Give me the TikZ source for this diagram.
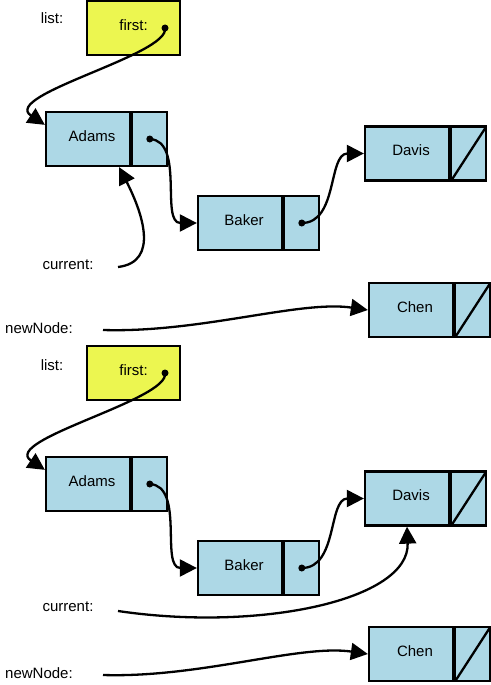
\documentclass[tikz,border=0pt]{standalone}
\usepackage{fontspec}
\setmainfont{Liberation Sans}
\usetikzlibrary{arrows.meta,calc}
\definecolor{cellblue}{RGB}{173,216,230}
\definecolor{headyellow}{RGB}{236,246,80}
\begin{document}
\begin{tikzpicture}[x=1pt,y=-1pt,
  every node/.style={font=\fontsize{15}{18}\selectfont},
  cell/.style={draw,line width=2.3pt,fill=cellblue,inner sep=0pt,minimum height=54pt},
  namecell/.style={cell,minimum width=84pt,text depth=6pt,execute at begin node={\hspace*{8pt}}},
  ptrcell/.style={cell,minimum width=35pt,anchor=west},
  nullcell/.style={ptrcell,path picture={\draw[line width=2.3pt]
      (path picture bounding box.south west) -- (path picture bounding box.north east);}},
  headbox/.style={draw,line width=2.3pt,fill=headyellow,minimum width=93pt,
      minimum height=54pt,inner sep=0pt,text depth=6pt},
  link/.style={line width=2.3pt,-{Triangle[length=17pt,width=17pt]}},
  dot/.style={circle,fill=black,inner sep=0pt,minimum size=7pt},
  lbl/.style={inner sep=0pt}]
\useasboundingbox (0,0) rectangle (490,685);

% ---------- first state ----------
\node[lbl] (list1) at (52,18) {list:};
\node[headbox] (h1) at (133.5,28) {first:};
\node[dot] (hd1) at (165,28) {};

\node[namecell] (a1) at (88,139) {Adams};
\node[ptrcell] (ap1) at (a1.east) {};
\node[dot] (ad1) at (ap1.center) {};

\node[namecell] (b1) at (240,223) {Baker};
\node[ptrcell] (bp1) at (b1.east) {};
\node[dot] (bd1) at (bp1.center) {};

\node[namecell] (d1) at (407,153.5) {Davis};
\node[nullcell] (dp1) at (d1.east) {};

\node[namecell] (c1) at (411,310) {Chen};
\node[nullcell] (cp1) at (c1.east) {};

\node[lbl] (curl1) at (68,265) {current:};
\node[lbl] (nnl1) at (39,328) {newNode:};
\coordinate (cur1) at (118,267);
\coordinate (nn1) at (103,330);

\draw[link] (hd1.center) .. controls (170,55) and (0,95) .. ($(a1.north west)+(0,14)$);
\draw[link] (ad1.center) .. controls (185,141) and (160,223) .. (b1.west);
\draw[link] (bd1.center) .. controls (338,223) and (328,153.5) .. (d1.west);
\draw[link] (cur1) .. controls (160,262) and (142,212) .. ($(a1.south east)+(-12,0)$);
\draw[link] (nn1) .. controls (200,333) and (300,300) .. (c1.west);

% ---------- second state ----------
\node[lbl] (list2) at (52,365) {list:};
\node[headbox] (h2) at (133.5,373) {first:};
\node[dot] (hd2) at (165,373) {};

\node[namecell] (a2) at (88,484) {Adams};
\node[ptrcell] (ap2) at (a2.east) {};
\node[dot] (ad2) at (ap2.center) {};

\node[namecell] (b2) at (240,568) {Baker};
\node[ptrcell] (bp2) at (b2.east) {};
\node[dot] (bd2) at (bp2.center) {};

\node[namecell] (d2) at (407,498.5) {Davis};
\node[nullcell] (dp2) at (d2.east) {};

\node[namecell] (c2) at (411,654) {Chen};
\node[nullcell] (cp2) at (c2.east) {};

\node[lbl] (curl2) at (68,607) {current:};
\node[lbl] (nnl2) at (39,673) {newNode:};
\coordinate (cur2) at (118,611);
\coordinate (nn2) at (103,675);

\draw[link] (hd2.center) .. controls (170,400) and (0,440) .. ($(a2.north west)+(0,14)$);
\draw[link] (ad2.center) .. controls (185,486) and (160,568) .. (b2.west);
\draw[link] (bd2.center) .. controls (338,568) and (328,498.5) .. (d2.west);
\draw[link] (cur2) .. controls (260,632) and (410,600) .. (d2.south);
\draw[link] (nn2) .. controls (200,678) and (300,644) .. (c2.west);
\end{tikzpicture}
\end{document}
